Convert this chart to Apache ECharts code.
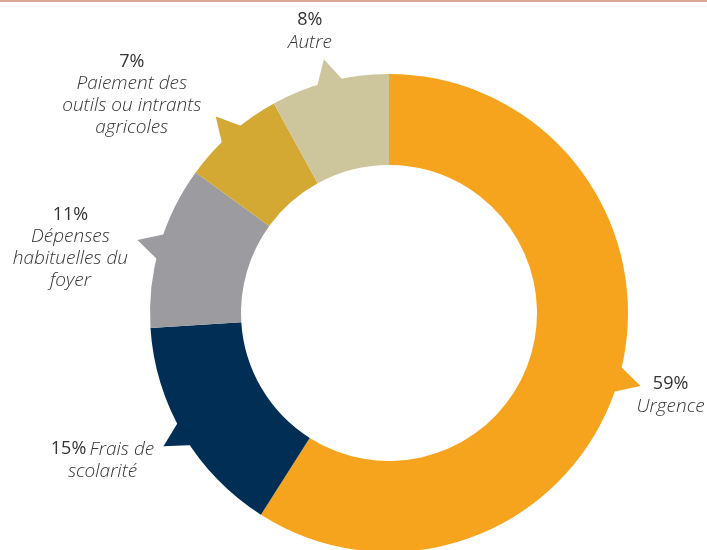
<!DOCTYPE html>
<html>
<head>
<meta charset="utf-8">
<script src="https://cdn.jsdelivr.net/npm/echarts@6/dist/echarts.min.js"></script>
<style>
  html, body { margin: 0; padding: 0; background: #fff; }
  #chart { width: 707px; height: 550px; }
</style>
</head>
<body>
<div id="chart"></div>
<script>
// data
var categories = ["Urgence", "Frais de scolarité", "Dépenses habituelles du foyer", "Paiement des outils ou intrants agricoles", "Autre"];
var values = [59, 15, 11, 7, 8];
// label lines (how the names are broken)
var nameLines = [
  ["Urgence"],
  ["Frais de", "scolarité"],
  ["Dépenses", "habituelles du", "foyer"],
  ["Paiement des", "outils ou intrants", "agricoles"],
  ["Autre"]
];
var pctInline = [false, true, false, false, false];

var colors = ["#f6a41e", "#002e55", "#9c9ca0", "#d4a933", "#cdc59c"];
// label offset from arrow tip (px)
var labelOffsets = [[30, 9], [-61, 14], [-67, 8], [-84, -22], [-14, -28]];

var chart = echarts.init(document.getElementById("chart"));

// midpoints of each slice (percent of total)
var total = values.reduce(function (a, b) { return a + b; }, 0);
var mids = [];
var acc = 0;
values.forEach(function (v) {
  mids.push((acc + v / 2) / total * 100);
  acc += v;
});

function labelText(i) {
  var pct = "{p|" + values[i] + "%}";
  var lines = nameLines[i].map(function (s) { return "{n|" + s + "}"; });
  if (pctInline[i]) {
    lines[0] = pct + " " + lines[0];
    return lines.join("\n");
  }
  return [pct].concat(lines).join("\n");
}

var option = {
  animation: false,
  graphic: [{
    type: "rect",
    left: 0, top: 0,
    shape: { width: 707, height: 2 },
    style: { fill: "#dca596" }
  }],
  polar: { center: [389, 313], radius: 340 },
  angleAxis: { type: "value", min: 0, max: 100, startAngle: 90, clockwise: true, show: false },
  radiusAxis: { type: "value", min: 0, max: 340, show: false },
  series: [
    {
      type: "pie",
      center: [389, 313],
      radius: [148, 239],
      startAngle: 90,
      clockwise: true,
      label: { show: false },
      labelLine: { show: false },
      emphasis: { disabled: true },
      data: categories.map(function (c, i) {
        return { name: c, value: values[i], itemStyle: { color: colors[i] } };
      })
    },
    {
      type: "custom",
      coordinateSystem: "polar",
      silent: true,
      z: 1,
      data: mids.map(function (m, i) { return [239, m, i]; }),
      renderItem: function (params, api) {
        var i = params.dataIndex;
        var mid = api.value(1);
        var tip = api.coord([262, mid]);
        var b1 = api.coord([235, mid - 1.0]);
        var b2 = api.coord([235, mid + 1.0]);
        var off = labelOffsets[i];
        return {
          type: "group",
          children: [
            {
              type: "polygon",
              shape: { points: [b1, tip, b2] },
              style: { fill: colors[i] }
            },
            {
              type: "text",
              x: tip[0] + off[0],
              y: tip[1] + off[1],
              style: {
                text: labelText(i),
                align: "center",
                verticalAlign: "middle",
                rich: {
                  p: { fontFamily: "Open Sans", fontSize: 18, fill: "#333", lineHeight: 22 },
                  n: { fontFamily: "Open Sans", fontSize: 19, fontStyle: "italic", fontWeight: 300, fill: "#333", lineHeight: 22 }
                }
              }
            }
          ]
        };
      }
    }
  ]
};
chart.setOption(option);
</script>
</body>
</html>
